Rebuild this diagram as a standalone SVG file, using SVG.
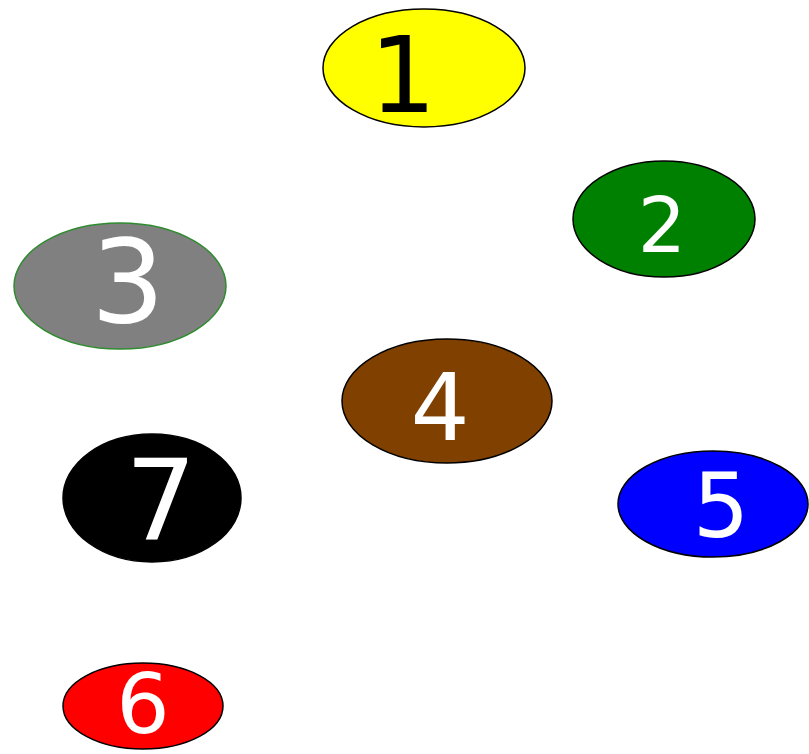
<svg xmlns="http://www.w3.org/2000/svg" width="809" height="754" viewBox="0 0 809 754">
<style>
.n ellipse{stroke:#000;stroke-width:1.5}
.n text{font-family:"DejaVu Sans","Liberation Sans",sans-serif;text-anchor:middle;fill:#fff}
</style>
<rect width="809" height="754" fill="#fff"/>
<g id="connectors"></g>
<g id="node1" class="n"><ellipse cx="424" cy="68" rx="101" ry="59" fill="#ffff00"/><text x="403" y="112" font-size="105" style="fill:#000">1</text></g>
<g id="node2" class="n"><ellipse cx="664" cy="219" rx="91" ry="58" fill="#008000"/><text x="662" y="252" font-size="76">2</text></g>
<g id="node3" class="n"><ellipse cx="120" cy="286" rx="106" ry="63" fill="#808080" style="stroke:#2e8b2e"/><text x="128" y="322" font-size="116">3</text></g>
<g id="node4" class="n"><ellipse cx="447" cy="401" rx="105" ry="62" fill="#804000"/><text x="440" y="440" font-size="93">4</text></g>
<g id="node5" class="n"><ellipse cx="713" cy="504" rx="95" ry="53" fill="#0000ff"/><text x="721" y="537" font-size="89">5</text></g>
<g id="node6" class="n"><ellipse cx="143" cy="706" rx="80" ry="43" fill="#ff0000"/><text x="143" y="733" font-size="84">6</text></g>
<g id="node7" class="n"><ellipse cx="152" cy="498" rx="89" ry="64" fill="#000000"/><text x="161" y="540" font-size="112">7</text></g>
</svg>
